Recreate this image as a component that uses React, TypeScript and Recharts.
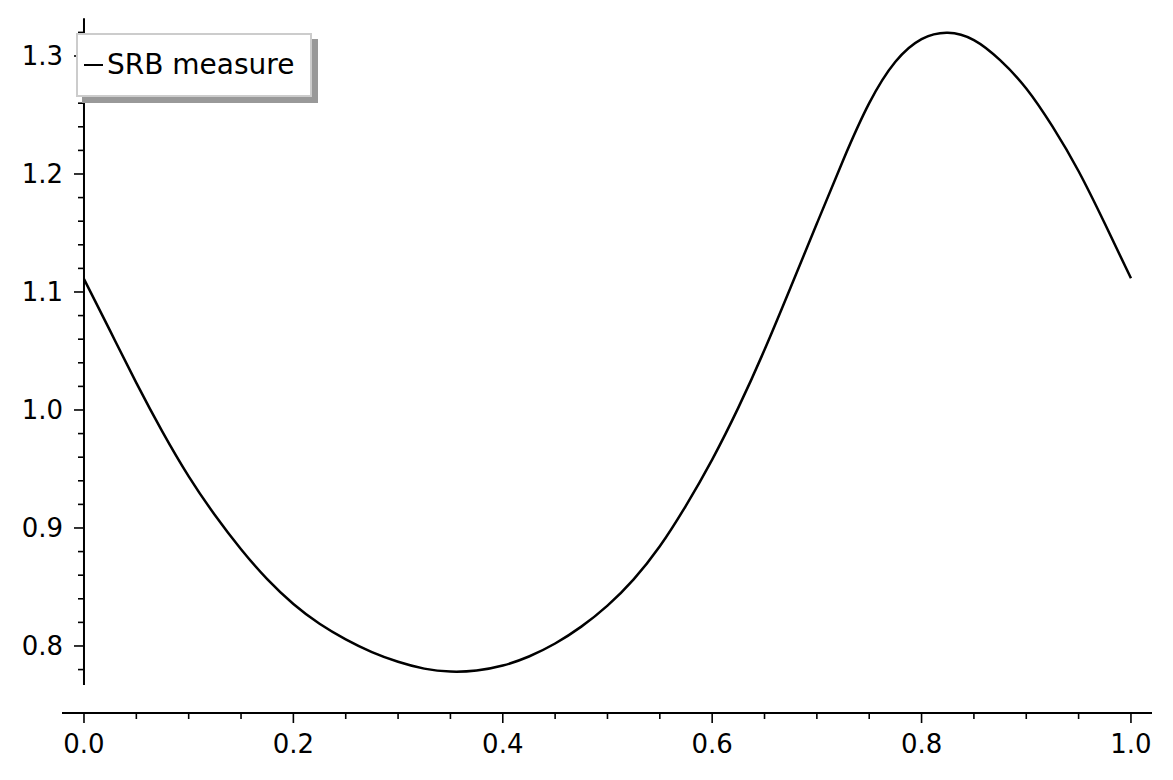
import { Legend, Line, LineChart, ReferenceLine, XAxis, YAxis } from 'recharts'

const X_VALUES = [
  0, 0.025, 0.05, 0.075, 0.1, 0.125, 0.15, 0.175, 0.2, 0.225,
  0.25, 0.275, 0.3, 0.325, 0.35, 0.375, 0.4, 0.425, 0.45, 0.475,
  0.5, 0.525, 0.55, 0.575, 0.6, 0.625, 0.65, 0.675, 0.7, 0.725,
  0.75, 0.775, 0.8, 0.825, 0.85, 0.875, 0.9, 0.925, 0.95, 0.975, 1,
]

const SRB_DENSITY = [
  1.111, 1.067, 1.023, 0.9815, 0.9438, 0.911, 0.882, 0.8566, 0.8356, 0.8188,
  0.8056, 0.7948, 0.7866, 0.7808, 0.7783, 0.7792, 0.7834, 0.7911, 0.8021, 0.8164,
  0.8342, 0.8565, 0.8845, 0.919, 0.958, 1.002, 1.051, 1.104, 1.158, 1.2115,
  1.26, 1.2951, 1.3143, 1.3197, 1.3135, 1.2965, 1.2725, 1.2403, 1.2023, 1.158, 1.1116,
]

const X_TICKS = [
  0, 0.05, 0.1, 0.15, 0.2, 0.25, 0.3, 0.35, 0.4, 0.45, 0.5,
  0.55, 0.6, 0.65, 0.7, 0.75, 0.8, 0.85, 0.9, 0.95, 1,
]
const X_LABELS = [0, 0.2, 0.4, 0.6, 0.8, 1]

const Y_TICKS = [
  0.78, 0.8, 0.82, 0.84, 0.86, 0.88, 0.9, 0.92, 0.94, 0.96, 0.98, 1.0,
  1.02, 1.04, 1.06, 1.08, 1.1, 1.12, 1.14, 1.16, 1.18, 1.2, 1.22, 1.24,
  1.26, 1.28, 1.3, 1.32,
]
const Y_LABELS = [0.8, 0.9, 1.0, 1.1, 1.2, 1.3]

const X_DOMAIN: [number, number] = [-0.021, 1.0201]
const Y_DOMAIN: [number, number] = [0.7432, 1.3322]
const Y_SPINE: [number, number] = [0.767, 1.332]

const WIDTH = 1173
const HEIGHT = 780
const MARGIN = { top: 18, right: 21, bottom: 37, left: 2 }
const FONT = '"DejaVu Sans", sans-serif'

const PLOT_W = WIDTH - MARGIN.left - MARGIN.right - 60
// distance from plot left edge to x = 0, where the y spine sits
const SPINE_SHIFT = (PLOT_W * (0 - X_DOMAIN[0])) / (X_DOMAIN[1] - X_DOMAIN[0])

const isIn = (v: number, list: number[]) => list.some((l) => Math.abs(l - v) < 1e-6)

function XTick({ x, y, payload }: any) {
  const major = isIn(payload.value, X_LABELS)
  return (
    <g>
      <line x1={x} x2={x} y1={y} y2={y + (major ? 10 : 6)} stroke="#000" strokeWidth={1.6} />
      {major && (
        <text x={x} y={y + 40} textAnchor="middle" fontSize={26} fontFamily={FONT} fill="#000">
          {payload.value.toFixed(1)}
        </text>
      )}
    </g>
  )
}

function YTick({ x, y, payload }: any) {
  const major = isIn(payload.value, Y_LABELS)
  const sx = x + SPINE_SHIFT
  return (
    <g>
      <line x1={sx - (major ? 10 : 6)} x2={sx} y1={y} y2={y} stroke="#000" strokeWidth={1.6} />
      {major && (
        <text x={sx - 21} y={y + 9.5} textAnchor="end" fontSize={26} fontFamily={FONT} fill="#000">
          {payload.value.toFixed(1)}
        </text>
      )}
    </g>
  )
}

function LegendBox({ payload }: any) {
  return (
    <div
      style={{
        width: 236,
        height: 64,
        boxSizing: 'border-box',
        border: '2.5px solid #cccccc',
        background: '#fff',
        boxShadow: '6px 6px 0 #999999',
        display: 'flex',
        alignItems: 'center',
        paddingLeft: 6,
        fontFamily: FONT,
        fontSize: 28,
        lineHeight: 1,
      }}
    >
      {(payload ?? []).map((item: any) => (
        <div key={item.value} style={{ display: 'flex', alignItems: 'center' }}>
          <span style={{ width: 19, height: 2.5, background: '#000', marginRight: 4 }} />
          <span>{item.value}</span>
        </div>
      ))}
    </div>
  )
}

export default function App() {
  const data = X_VALUES.map((x, i) => ({ x, y: SRB_DENSITY[i] }))

  return (
    <div style={{ position: 'relative' }}>
      <style>{'body { margin: 0; background: #fff; }'}</style>
      <LineChart width={WIDTH} height={HEIGHT} data={data} margin={MARGIN}>
        <XAxis
          type="number"
          dataKey="x"
          domain={X_DOMAIN}
          allowDataOverflow
          ticks={X_TICKS}
          interval={0}
          tick={<XTick />}
          tickLine={false}
          tickSize={0}
          tickMargin={0}
          height={30}
          axisLine={{ stroke: '#000', strokeWidth: 2 }}
        />
        <YAxis
          type="number"
          domain={Y_DOMAIN}
          allowDataOverflow
          ticks={Y_TICKS}
          interval={0}
          tick={<YTick />}
          tickLine={false}
          tickSize={0}
          tickMargin={0}
          width={60}
          axisLine={false}
        />
        <ReferenceLine
          segment={[
            { x: 0, y: Y_SPINE[0] },
            { x: 0, y: Y_SPINE[1] },
          ]}
          stroke="#000"
          strokeWidth={2}
          ifOverflow="visible"
        />
        <Legend
          layout="horizontal"
          verticalAlign="middle"
          align="center"
          content={<LegendBox />}
          wrapperStyle={{ top: 33, left: 76, width: 'auto', height: 'auto' }}
        />
        <Line
          type="natural"
          dataKey="y"
          name="SRB measure"
          stroke="#000"
          strokeWidth={2.5}
          dot={false}
          activeDot={false}
          isAnimationActive={false}
        />
      </LineChart>
    </div>
  )
}
